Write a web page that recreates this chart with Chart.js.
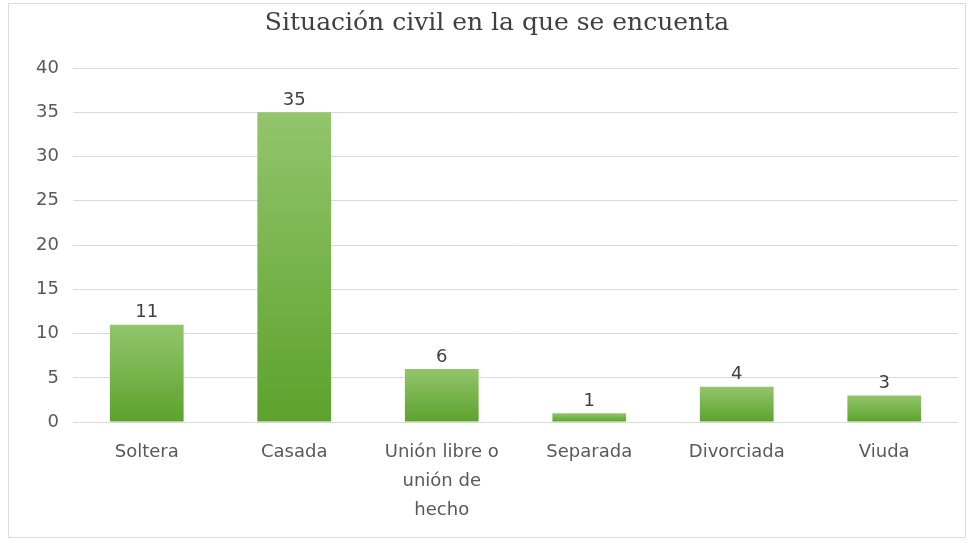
<!DOCTYPE html>
<html lang="es">
<head>
<meta charset="utf-8">
<title>Situación civil</title>
<script src="https://cdn.jsdelivr.net/npm/chart.js@4.4.1/dist/chart.umd.min.js"></script>
<style>
  html, body {
    margin: 0;
    padding: 0;
    background: #ffffff;
  }
  #wrap {
    position: relative;
    width: 972px;
    height: 543px;
  }
  #frame {
    position: absolute;
    left: 8px;
    top: 3px;
    width: 958px;
    height: 535px;
    border: 1px solid #dcdcdc;
    box-sizing: border-box;
    pointer-events: none;
  }
</style>
</head>
<body>
<div id="wrap">
  <canvas id="barras" width="972" height="543"></canvas>
  <div id="frame"></div>
</div>
<script>
const titulo = "Situación civil en la que se encuenta";
const categorias = [
  "Soltera",
  "Casada",
  ["Unión libre o", "unión de", "hecho"],
  "Separada",
  "Divorciada",
  "Viuda",
];
const cantidades = [11, 35, 6, 1, 4, 3];
const ejeMin = 0;
const ejeMax = 40;
const ejePaso = 5;

const grisTexto = "#595959";
const grisLinea = "#d9d9d9";

// degradado verde por barra, de su tope hasta la base
function verdeBarra(ctx) {
  const chart = ctx.chart;
  const area = chart.chartArea;
  if (!area || ctx.type !== "data") {
    return "#6fb23e";
  }
  const y = chart.scales.y;
  const top = y.getPixelForValue(cantidades[ctx.dataIndex]);
  const base = y.getPixelForValue(0);
  const grad = chart.ctx.createLinearGradient(0, top, 0, base);
  grad.addColorStop(0, "#93c56c");
  grad.addColorStop(1, "#5ca22c");
  return grad;
}

// escribe el valor encima de cada barra
const etiquetasValor = {
  id: "etiquetasValor",
  afterDatasetsDraw(chart) {
    const ctx = chart.ctx;
    const meta = chart.getDatasetMeta(0);
    ctx.save();
    ctx.font = "18px 'DejaVu Sans'";
    ctx.fillStyle = "#404040";
    ctx.textAlign = "center";
    ctx.textBaseline = "middle";
    meta.data.forEach((bar, i) => {
      ctx.fillText(String(cantidades[i]), bar.x, bar.y - 12);
    });
    ctx.restore();
  },
};

function renderBarras(id) {
  const context = document.querySelector(id).getContext("2d");
  new Chart(context, {
    type: "bar",
    data: {
      labels: categorias,
      datasets: [
        {
          label: titulo,
          data: cantidades,
          backgroundColor: verdeBarra,
          borderWidth: 0,
          categoryPercentage: 1,
          barPercentage: 0.5,
        },
      ],
    },
    options: {
      responsive: false,
      animation: false,
      layout: {
        padding: { left: 36, right: 14, top: 0, bottom: 2.5 },
      },
      plugins: {
        legend: { display: false },
        tooltip: { enabled: false },
        title: {
          display: true,
          text: titulo,
          color: "#404040",
          font: { family: "'DejaVu Serif'", size: 25, weight: "normal" },
          padding: { top: 8, bottom: 30 },
        },
      },
      scales: {
        x: {
          grid: { display: false, drawTicks: false },
          border: { display: false },
          ticks: {
            color: grisTexto,
            padding: 16,
            maxRotation: 0,
            autoSkip: false,
            font: { family: "'DejaVu Sans'", size: 18, lineHeight: 1.6 },
          },
        },
        y: {
          min: ejeMin,
          max: ejeMax,
          grid: { color: grisLinea, drawTicks: false },
          border: { display: false },
          ticks: {
            stepSize: ejePaso,
            color: grisTexto,
            padding: 14,
            font: { family: "'DejaVu Sans'", size: 18 },
          },
          afterFit(scale) {
            scale.width = 37;
          },
        },
      },
    },
    plugins: [etiquetasValor],
  });
}

renderBarras("#barras");
</script>
</body>
</html>
